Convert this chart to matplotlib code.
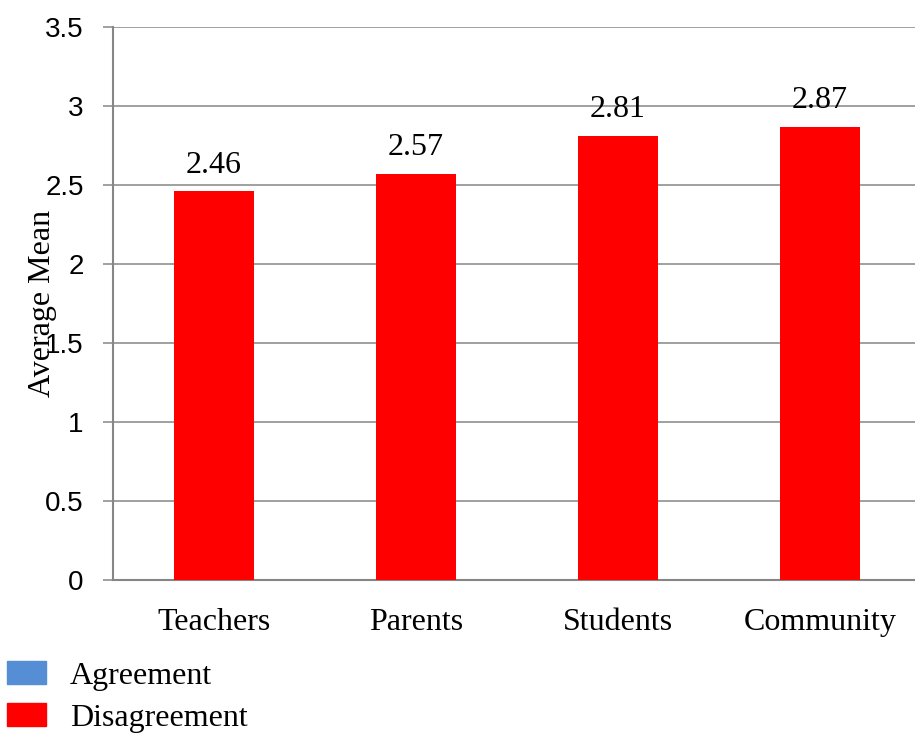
import numpy as np
import matplotlib
matplotlib.use("Agg")
import matplotlib.pyplot as plt
from matplotlib.patches import Patch

# data
categories = ["Teachers", "Parents", "Students", "Community"]
disagreement = [2.46, 2.57, 2.81, 2.87]
yticks = [0, 0.5, 1, 1.5, 2, 2.5, 3, 3.5]
ytick_labels = ["0", "0.5", "1", "1.5", "2", "2.5", "3", "3.5"]
series_names = ["Agreement", "Disagreement"]

blue = "#558ED5"
red = "#FF0000"
grid_col = "#868686"
serif = "Liberation Serif"
sans = "Liberation Sans"

fig = plt.figure(figsize=(9.15, 7.34), dpi=100)
ax = fig.add_axes([113 / 915, 154 / 734, 808 / 915, 553 / 734])

x = np.arange(len(categories))
bars = ax.bar(x, disagreement, width=0.4, color=red, zorder=3)

# value labels above the bars
for b, v in zip(bars, disagreement):
    ax.annotate(f"{v:.2f}", (b.get_x() + b.get_width() / 2, v),
                xytext=(0, 13.5), textcoords="offset points",
                ha="center", va="baseline", fontsize=23, family=serif)

ax.set_xlim(-0.5, len(categories) - 0.5)
ax.set_ylim(0, 3.5)
ax.set_yticks(yticks)
ax.set_yticklabels(ytick_labels, family=sans, fontsize=20)
ax.set_xticks(x)
ax.set_xticklabels(categories, family=serif, fontsize=23)

ax.yaxis.grid(True, color=grid_col, linewidth=1.1, zorder=0)
ax.set_axisbelow(True)
for s in ["top", "right"]:
    ax.spines[s].set_visible(False)
for s in ["left", "bottom"]:
    ax.spines[s].set_color(grid_col)
    ax.spines[s].set_linewidth(1.5)
ax.tick_params(axis="y", length=7, width=1.1, color=grid_col, pad=14)
ax.tick_params(axis="x", length=0, pad=20)

# y label sits over the tick labels, as in the original
fig.text(43 / 915, 1 - 303 / 734, "Average Mean", rotation=90,
         ha="center", va="center", fontsize=23, family=serif)

handles = [Patch(color=blue), Patch(color=red)]
fig.legend(handles, series_names, loc="lower left", bbox_to_anchor=(0.008, 0.002),
           frameon=False, prop={"family": serif, "size": 23},
           handlelength=1.2, handleheight=0.72, handletextpad=0.75,
           labelspacing=0.38, borderpad=0, borderaxespad=0)

fig.savefig("out.png", dpi=100)
